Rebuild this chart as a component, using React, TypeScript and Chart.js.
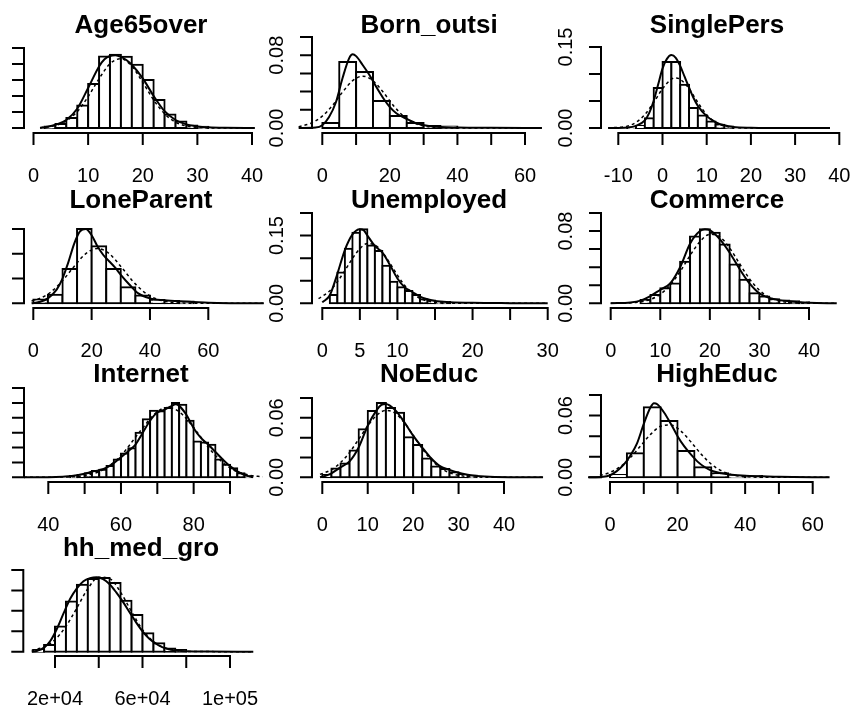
import React, { useEffect, useRef } from "react";
import { Chart, registerables } from "chart.js";
Chart.register(...registerables);

// ---------------- data ----------------
const ageBreaks = [2, 4, 6, 8, 10, 12, 14, 16, 18, 20, 22, 24, 26, 28, 30, 32];
const ageDens = [0.002, 0.005, 0.0125, 0.028, 0.055, 0.0895, 0.0917, 0.089, 0.079, 0.06, 0.035, 0.017, 0.008, 0.003, 0.0015];
const ageKdeX = [1.2, 2, 4, 6, 8, 10, 12, 13, 14, 15, 16, 17, 18, 20, 22, 24, 26, 28, 30, 32, 35, 40.5];
const ageKdeY = [0, 0.001, 0.004, 0.01, 0.024, 0.05, 0.077, 0.086, 0.09, 0.091, 0.089, 0.085, 0.079, 0.062, 0.04, 0.021, 0.01, 0.0045, 0.002, 0.0008, 0.0002, 0];
const ageNormX = [1.2, 2, 4, 6, 8, 10, 12, 14, 16, 18, 20, 22, 24, 26, 28, 30, 32, 35, 40.5];
const ageNormY = [0.0006, 0.001, 0.0032, 0.0089, 0.0205, 0.0392, 0.0616, 0.0803, 0.0866, 0.0773, 0.0571, 0.035, 0.0177, 0.0074, 0.0026, 0.0007, 0.0002, 0.00002, 0];
const ageXTicks = [0, 10, 20, 30, 40];
const ageXLabels = ["0", "10", "20", "30", "40"];
const ageYTicks = [0, 0.02, 0.04, 0.06, 0.08, 0.1];
const ageYLabels = ["0.00", "", "", "", "0.08", ""];

const bornBreaks = [0, 5, 10, 15, 20, 25, 30, 35, 40];
const bornDens = [0.0055, 0.0725, 0.0615, 0.0297, 0.0132, 0.0055, 0.0022, 0.0016];
const bornKdeX = [-7, -2, 0, 2, 4, 6, 8, 9, 10, 12, 14, 16, 18, 20, 22, 25, 28, 32, 40, 50, 65];
const bornKdeY = [0, 0.0005, 0.003, 0.012, 0.028, 0.055, 0.077, 0.081, 0.079, 0.069, 0.058, 0.045, 0.033, 0.023, 0.016, 0.01, 0.005, 0.002, 0.0005, 0.0002, 0];
const bornNormX = [-7, -3, 0, 3, 6, 9, 12, 15, 18, 21, 24, 27, 30, 35, 40, 65];
const bornNormY = [0.0014, 0.0058, 0.0131, 0.0248, 0.0395, 0.052, 0.057, 0.052, 0.0395, 0.0248, 0.0131, 0.0058, 0.0021, 0.0003, 0.00002, 0];
const bornXTicks = [0, 10, 20, 30, 40, 50, 60];
const bornXLabels = ["0", "", "20", "", "40", "", "60"];
const bornYTicks = [0, 0.02, 0.04, 0.06, 0.08, 0.1];
const bornYLabels = ["0.00", "", "", "", "0.08", ""];

const singleBreaks = [-8, -6, -4, -2, 0, 2, 4, 6, 8, 10, 12, 14, 16];
const singleDens = [0.001, 0.004, 0.018, 0.074, 0.122, 0.122, 0.08, 0.037, 0.023, 0.012, 0.006, 0.003];
const singleKdeX = [-12.3, -8, -6, -4, -3, -2, -1, 0, 1, 2, 3, 4, 5, 6, 7, 8, 10, 12, 14, 16, 20, 25, 37.9];
const singleKdeY = [0, 0.001, 0.004, 0.014, 0.028, 0.05, 0.08, 0.11, 0.128, 0.135, 0.13, 0.115, 0.095, 0.075, 0.056, 0.041, 0.022, 0.011, 0.005, 0.002, 0.0005, 0.0001, 0];
const singleNormX = [-12.3, -8, -6, -4, -2, 0, 2, 3, 4, 6, 8, 10, 12, 14, 16, 18, 25, 37.9];
const singleNormY = [0.0002, 0.0035, 0.0104, 0.0247, 0.0472, 0.0728, 0.0903, 0.0928, 0.0903, 0.0728, 0.0472, 0.0247, 0.0104, 0.0035, 0.001, 0.0002, 0, 0];
const singleXTicks = [-10, 0, 10, 20, 30, 40];
const singleXLabels = ["-10", "0", "10", "20", "30", "40"];
const singleYTicks = [0, 0.05, 0.1, 0.15];
const singleYLabels = ["0.00", "", "", "0.15"];

const loneBreaks = [0, 5, 10, 15, 20, 25, 30, 35, 40, 45, 50, 55];
const loneDens = [0.003, 0.007, 0.0276, 0.06, 0.046, 0.0276, 0.013, 0.0062, 0.0027, 0.0019, 0.0014];
const loneKdeX = [-0.6, 2, 5, 8, 10, 12, 14, 16, 18, 20, 22, 24, 26, 28, 30, 33, 36, 40, 45, 50, 55, 60, 70, 79];
const loneKdeY = [0, 0.001, 0.004, 0.011, 0.02, 0.033, 0.048, 0.058, 0.06, 0.055, 0.046, 0.039, 0.034, 0.029, 0.023, 0.015, 0.008, 0.004, 0.0025, 0.0016, 0.001, 0.0004, 0.0001, 0];
const loneNormX = [-0.6, 2, 6, 10, 14, 18, 22, 26, 30, 34, 38, 42, 46, 50, 56, 79];
const loneNormY = [0.0019, 0.0037, 0.0091, 0.0182, 0.0298, 0.0401, 0.0443, 0.0401, 0.0298, 0.0182, 0.0091, 0.0037, 0.0012, 0.0003, 0.00004, 0];
const loneXTicks = [0, 20, 40, 60];
const loneXLabels = ["0", "20", "40", "60"];
const loneYTicks = [0, 0.02, 0.04, 0.06];
const loneYLabels = ["0.00", "", "", "0.06"];

const unempBreaks = [1, 2, 3, 4, 5, 6, 7, 8, 9, 10, 11, 12, 13, 14, 15, 16, 17];
const unempDens = [0.0185, 0.068, 0.121, 0.156, 0.164, 0.128, 0.116, 0.083, 0.048, 0.0356, 0.027, 0.0185, 0.009, 0.006, 0.0037, 0.003];
const unempKdeX = [0, 1, 2, 3, 4, 5, 5.5, 6, 7, 8, 9, 10, 11, 12, 13, 14, 15, 17, 20, 25, 30];
const unempKdeY = [0.002, 0.018, 0.065, 0.118, 0.152, 0.164, 0.162, 0.15, 0.127, 0.112, 0.085, 0.055, 0.035, 0.025, 0.015, 0.009, 0.005, 0.0025, 0.001, 0.0003, 0];
const unempNormX = [-0.5, 1, 2, 3, 4, 5, 6, 7, 8, 9, 10, 11, 12, 13, 14, 15, 17, 30];
const unempNormY = [0.0102, 0.0278, 0.0476, 0.0726, 0.0991, 0.121, 0.1323, 0.1294, 0.1132, 0.0887, 0.0622, 0.039, 0.0219, 0.011, 0.0049, 0.002, 0.0002, 0];
const unempXTicks = [0, 5, 10, 15, 20, 25, 30];
const unempXLabels = ["0", "5", "10", "", "20", "", "30"];
const unempYTicks = [0, 0.05, 0.1, 0.15, 0.2];
const unempYLabels = ["0.00", "", "", "0.15", ""];

const commBreaks = [6, 8, 10, 12, 14, 16, 18, 20, 22, 24, 26, 28, 30, 32, 34, 36, 38, 40];
const commDens = [0.0037, 0.0093, 0.0167, 0.022, 0.046, 0.074, 0.082, 0.078, 0.065, 0.043, 0.026, 0.011, 0.0074, 0.0044, 0.003, 0.0022, 0.0012];
const commKdeX = [0, 4, 6, 8, 10, 12, 14, 16, 18, 19, 20, 22, 24, 26, 28, 30, 32, 34, 36, 38, 40, 45.6];
const commKdeY = [0, 0.001, 0.003, 0.008, 0.015, 0.022, 0.04, 0.066, 0.08, 0.082, 0.081, 0.071, 0.056, 0.038, 0.022, 0.011, 0.006, 0.0035, 0.0022, 0.0012, 0.0005, 0];
const commNormX = [0, 5, 8, 10, 12, 14, 16, 18, 20, 22, 24, 26, 28, 30, 32, 34, 36, 40, 45.6];
const commNormY = [0.00003, 0.0009, 0.0043, 0.01, 0.0202, 0.0351, 0.0528, 0.0683, 0.0764, 0.0736, 0.0612, 0.0438, 0.0271, 0.0144, 0.0067, 0.0026, 0.0009, 0.00005, 0];
const commXTicks = [0, 10, 20, 30, 40];
const commXLabels = ["0", "10", "20", "30", "40"];
const commYTicks = [0, 0.02, 0.04, 0.06, 0.08, 0.1];
const commYLabels = ["0.00", "", "", "", "0.08", ""];

const netBreaks = [46, 48, 50, 52, 54, 56, 58, 60, 62, 64, 66, 68, 70, 72, 74, 76, 78, 80, 82, 84, 86, 88, 90, 92, 94, 96];
const netDens = [0.0009, 0.0016, 0.0027, 0.0043, 0.005, 0.0076, 0.012, 0.016, 0.0196, 0.03, 0.039, 0.0447, 0.0443, 0.0465, 0.05, 0.0488, 0.038, 0.024, 0.0234, 0.0218, 0.012, 0.0085, 0.006, 0.0027, 0.0009];
const netKdeX = [33.3, 40, 44, 46, 48, 50, 52, 54, 56, 58, 60, 62, 64, 66, 68, 70, 72, 74, 75, 76, 78, 80, 82, 84, 86, 88, 90, 92, 94, 96.4];
const netKdeY = [0, 0, 0.0003, 0.0008, 0.0014, 0.0024, 0.0037, 0.0048, 0.0065, 0.0095, 0.0135, 0.0175, 0.022, 0.03, 0.038, 0.0435, 0.0455, 0.048, 0.049, 0.048, 0.042, 0.033, 0.0265, 0.022, 0.017, 0.012, 0.0075, 0.004, 0.0015, 0];
const netNormX = [33.3, 45, 50, 55, 60, 65, 70, 73, 76, 80, 85, 90, 95, 99];
const netNormY = [0, 0.0002, 0.0012, 0.005, 0.0146, 0.0301, 0.0441, 0.0469, 0.0441, 0.0334, 0.0173, 0.0063, 0.0016, 0.0004];
const netXTicks = [40, 50, 60, 70, 80, 90];
const netXLabels = ["40", "", "60", "", "80", ""];
const netYTicks = [0, 0.01, 0.02, 0.03, 0.04, 0.05, 0.06];
const netYLabels = ["0.00", "", "", "0.03", "", "", "0.06"];

const noBreaks = [0, 2, 4, 6, 8, 10, 12, 14, 16, 18, 20, 22, 24, 26, 28, 30, 32, 34];
const noDens = [0.0024, 0.009, 0.014, 0.027, 0.0486, 0.067, 0.075, 0.07, 0.065, 0.0405, 0.0327, 0.019, 0.0108, 0.0084, 0.005, 0.0024, 0.0017];
const noKdeX = [-0.5, 1, 2, 4, 6, 8, 10, 12, 13, 14, 16, 18, 20, 22, 24, 26, 28, 30, 32, 34, 38, 48.6];
const noKdeY = [0, 0.002, 0.004, 0.01, 0.016, 0.03, 0.052, 0.068, 0.073, 0.074, 0.068, 0.056, 0.042, 0.03, 0.019, 0.011, 0.0075, 0.0045, 0.0025, 0.0012, 0.0003, 0];
const noNormX = [-0.5, 2, 4, 6, 8, 10, 12, 14, 16, 18, 20, 22, 24, 26, 28, 30, 33, 40, 48.6];
const noNormY = [0.0029, 0.0077, 0.0147, 0.0251, 0.0383, 0.0518, 0.0627, 0.0675, 0.0648, 0.0555, 0.0424, 0.0288, 0.0175, 0.0095, 0.0046, 0.002, 0.0004, 0, 0];
const noXTicks = [0, 10, 20, 30, 40];
const noXLabels = ["0", "10", "20", "30", "40"];
const noYTicks = [0, 0.02, 0.04, 0.06, 0.08];
const noYLabels = ["0.00", "", "", "0.06", ""];

const highBreaks = [0, 5, 10, 15, 20, 25, 30, 35, 40, 45];
const highDens = [0.0023, 0.0233, 0.068, 0.0547, 0.0256, 0.0097, 0.0039, 0.0016, 0.0013];
const highKdeX = [-6.5, -2, 0, 2, 4, 6, 8, 10, 12, 13, 14, 16, 18, 20, 22, 24, 26, 28, 30, 33, 36, 40, 45, 50, 65];
const highKdeY = [0, 0.0005, 0.002, 0.006, 0.012, 0.021, 0.033, 0.052, 0.068, 0.072, 0.071, 0.063, 0.052, 0.04, 0.03, 0.022, 0.015, 0.01, 0.0065, 0.004, 0.0025, 0.0015, 0.001, 0.0005, 0];
const highNormX = [-6.5, -3, 0, 3, 6, 9, 12, 15, 18, 21, 24, 27, 30, 33, 36, 40, 45, 65];
const highNormY = [0.0006, 0.0019, 0.0048, 0.0102, 0.019, 0.0303, 0.0417, 0.0496, 0.0508, 0.0449, 0.0342, 0.0225, 0.0127, 0.0063, 0.0026, 0.0007, 0.0001, 0];
const highXTicks = [0, 10, 20, 30, 40, 50, 60];
const highXLabels = ["0", "", "20", "", "40", "", "60"];
const highYTicks = [0, 0.02, 0.04, 0.06, 0.08];
const highYLabels = ["0.00", "", "", "0.06", ""];

const hhBreaks = [10000, 15000, 20000, 25000, 30000, 35000, 40000, 45000, 50000, 55000, 60000, 65000, 70000, 75000, 80000];
const hhDens = [0.08e-5, 0.33e-5, 1.23e-5, 2.46e-5, 3.28e-5, 3.56e-5, 3.61e-5, 3.36e-5, 2.49e-5, 1.8e-5, 0.9e-5, 0.41e-5, 0.16e-5, 0.08e-5];
const hhKdeX = [9350, 12000, 15000, 18000, 21000, 24000, 27000, 30000, 33000, 36000, 39000, 42000, 45000, 48000, 51000, 54000, 57000, 60000, 63000, 66000, 69000, 72000, 76000, 80000, 90000, 110650];
const hhKdeY = [0, 0.05e-5, 0.2e-5, 0.55e-5, 1.15e-5, 1.9e-5, 2.6e-5, 3.1e-5, 3.45e-5, 3.6e-5, 3.65e-5, 3.55e-5, 3.3e-5, 2.9e-5, 2.45e-5, 1.95e-5, 1.45e-5, 1.0e-5, 0.65e-5, 0.4e-5, 0.22e-5, 0.12e-5, 0.05e-5, 0.02e-5, 0.005e-5, 0];
const hhNormX = [9350, 15000, 20000, 25000, 30000, 35000, 40000, 45000, 50000, 55000, 60000, 65000, 70000, 75000, 80000, 110650];
const hhNormY = [0.064e-5, 0.235e-5, 0.59e-5, 1.24e-5, 2.14e-5, 3.08e-5, 3.65e-5, 3.58e-5, 2.91e-5, 1.96e-5, 1.08e-5, 0.5e-5, 0.19e-5, 0.06e-5, 0.016e-5, 0];
const hhXTicks = [20000, 40000, 60000, 80000, 100000];
const hhXLabels = ["2e+04", "", "6e+04", "", "1e+05"];
const hhYTicks = [0, 1e-5, 2e-5, 3e-5, 4e-5];
const hhYLabels = ["0e+00", "", "2e-05", "", "4e-05"];

const titles = ["Age65over", "Born_outsi", "SinglePers", "LoneParent", "Unemployed", "Commerce", "Internet", "NoEduc", "HighEduc", "hh_med_gro"];

const panelData = [
  { breaks: ageBreaks, dens: ageDens, kx: ageKdeX, ky: ageKdeY, nx: ageNormX, ny: ageNormY, xt: ageXTicks, xl: ageXLabels, yt: ageYTicks, yl: ageYLabels },
  { breaks: bornBreaks, dens: bornDens, kx: bornKdeX, ky: bornKdeY, nx: bornNormX, ny: bornNormY, xt: bornXTicks, xl: bornXLabels, yt: bornYTicks, yl: bornYLabels },
  { breaks: singleBreaks, dens: singleDens, kx: singleKdeX, ky: singleKdeY, nx: singleNormX, ny: singleNormY, xt: singleXTicks, xl: singleXLabels, yt: singleYTicks, yl: singleYLabels },
  { breaks: loneBreaks, dens: loneDens, kx: loneKdeX, ky: loneKdeY, nx: loneNormX, ny: loneNormY, xt: loneXTicks, xl: loneXLabels, yt: loneYTicks, yl: loneYLabels },
  { breaks: unempBreaks, dens: unempDens, kx: unempKdeX, ky: unempKdeY, nx: unempNormX, ny: unempNormY, xt: unempXTicks, xl: unempXLabels, yt: unempYTicks, yl: unempYLabels },
  { breaks: commBreaks, dens: commDens, kx: commKdeX, ky: commKdeY, nx: commNormX, ny: commNormY, xt: commXTicks, xl: commXLabels, yt: commYTicks, yl: commYLabels },
  { breaks: netBreaks, dens: netDens, kx: netKdeX, ky: netKdeY, nx: netNormX, ny: netNormY, xt: netXTicks, xl: netXLabels, yt: netYTicks, yl: netYLabels },
  { breaks: noBreaks, dens: noDens, kx: noKdeX, ky: noKdeY, nx: noNormX, ny: noNormY, xt: noXTicks, xl: noXLabels, yt: noYTicks, yl: noYLabels },
  { breaks: highBreaks, dens: highDens, kx: highKdeX, ky: highKdeY, nx: highNormX, ny: highNormY, xt: highXTicks, xl: highXLabels, yt: highYTicks, yl: highYLabels },
  { breaks: hhBreaks, dens: hhDens, kx: hhKdeX, ky: hhKdeY, nx: hhNormX, ny: hhNormY, xt: hhXTicks, xl: hhXLabels, yt: hhYTicks, yl: hhYLabels },
];

// ---------------- layout (page pixels) ----------------
// axisX: y-axis line, axisY: x-axis line, baseY: density 0, topY: top y tick,
// x0px/x1px: pixel of first/last x tick, titleX: title centre
const layouts = [
  { axisX: 24, axisY: 133, baseY: 128, topY: 48, x0px: 33.5, x1px: 252, titleX: 141 },
  { axisX: 312, axisY: 133, baseY: 128, topY: 37, x0px: 322.3, x1px: 525, titleX: 429 },
  { axisX: 601, axisY: 133, baseY: 128, topY: 47, x0px: 618.3, x1px: 839.3, titleX: 717 },
  { axisX: 24, axisY: 308, baseY: 303.3, topY: 229, x0px: 33.3, x1px: 208.3, titleX: 141 },
  { axisX: 312, axisY: 308, baseY: 303.3, topY: 213, x0px: 322.3, x1px: 547.7, titleX: 429 },
  { axisX: 601, axisY: 308, baseY: 303.3, topY: 213, x0px: 610.7, x1px: 809, titleX: 717 },
  { axisX: 24, axisY: 482, baseY: 477.3, topY: 388, x0px: 48.3, x1px: 230, titleX: 141 },
  { axisX: 312, axisY: 482, baseY: 477.3, topY: 398, x0px: 322.3, x1px: 504, titleX: 429 },
  { axisX: 601, axisY: 482, baseY: 477.3, topY: 395, x0px: 610, x1px: 812.7, titleX: 717 },
  { axisX: 23.3, axisY: 656, baseY: 651.7, topY: 570, x0px: 55, x1px: 230, titleX: 141 },
];

const W = 850;
const H = 705;
const FONT = '"Liberation Sans", Arial, Helvetica, sans-serif';

function Panel({ idx }: { idx: number }) {
  const ref = useRef<HTMLCanvasElement | null>(null);
  useEffect(() => {
    const d = panelData[idx];
    const L = layouts[idx];
    const title = titles[idx];
    const xFirst = d.xt[0];
    const xLast = d.xt[d.xt.length - 1];
    const xpu = (L.x1px - L.x0px) / (xLast - xFirst);
    const right = W - 1;
    const xmin = xFirst - (L.x0px - L.axisX) / xpu;
    const xmax = xFirst + (right - L.x0px) / xpu;
    const yTop = d.yt[d.yt.length - 1];
    const ypu = (L.baseY - L.topY) / yTop;
    const ymin = -(L.axisY - L.baseY) / ypu;

    const bars = d.dens.map((h, i) => ({ x: (d.breaks[i] + d.breaks[i + 1]) / 2, y: h }));
    const kde = d.kx.map((x, i) => ({ x, y: d.ky[i] }));
    const norm = d.nx.map((x, i) => ({ x, y: d.ny[i] }));

    const axesPlugin = {
      id: "rAxes" + idx,
      afterDraw(chart: any) {
        const { ctx, chartArea } = chart;
        const xs = chart.scales.x;
        const ys = chart.scales.y;
        ctx.save();
        ctx.strokeStyle = "#000";
        ctx.fillStyle = "#000";
        ctx.lineWidth = 2;
        ctx.lineCap = "butt";
        // x axis
        const yb = chartArea.bottom;
        const xp = d.xt.map((v: number) => xs.getPixelForValue(v));
        ctx.beginPath();
        ctx.moveTo(xp[0] - 1, yb);
        ctx.lineTo(xp[xp.length - 1] + 1, yb);
        xp.forEach((p: number) => {
          ctx.moveTo(p, yb);
          ctx.lineTo(p, yb + 12);
        });
        ctx.stroke();
        ctx.font = "20px " + FONT;
        ctx.textAlign = "center";
        ctx.textBaseline = "alphabetic";
        d.xl.forEach((l: string, i: number) => {
          if (l) ctx.fillText(l, xp[i], yb + 49);
        });
        // y axis
        const xa = chartArea.left;
        const yp = d.yt.map((v: number) => ys.getPixelForValue(v));
        ctx.beginPath();
        ctx.moveTo(xa, yp[0] + 1);
        ctx.lineTo(xa, yp[yp.length - 1] - 1);
        yp.forEach((p: number) => {
          ctx.moveTo(xa, p);
          ctx.lineTo(xa - 12, p);
        });
        ctx.stroke();
        d.yl.forEach((l: string, i: number) => {
          if (!l) return;
          ctx.save();
          ctx.translate(xa - 29, yp[i]);
          ctx.rotate(-Math.PI / 2);
          ctx.fillText(l, 0, 0);
          ctx.restore();
        });
        // title
        ctx.font = "bold 26px " + FONT;
        ctx.fillText(title, L.titleX, yb - 100);
        ctx.restore();
      },
    };

    const chart = new Chart(ref.current as HTMLCanvasElement, {
      type: "bar",
      data: {
        datasets: [
          {
            type: "line",
            data: kde,
            borderColor: "#000",
            borderWidth: 2,
            pointRadius: 0,
            cubicInterpolationMode: "monotone",
            fill: false,
            clip: false,
            order: 1,
          } as any,
          {
            type: "line",
            data: norm,
            borderColor: "#000",
            borderWidth: 1.5,
            borderDash: [3, 3],
            pointRadius: 0,
            cubicInterpolationMode: "monotone",
            fill: false,
            clip: false,
            order: 2,
          } as any,
          {
            type: "bar",
            data: bars,
            backgroundColor: "#fff",
            borderColor: "#000",
            borderWidth: 2,
            borderSkipped: false,
            barPercentage: 1,
            categoryPercentage: 1,
            inflateAmount: 1,
            clip: false,
            order: 3,
          } as any,
        ],
      },
      options: {
        responsive: false,
        animation: false,
        devicePixelRatio: 1,
        events: [],
        layout: {
          padding: { left: L.axisX, top: L.topY, right: W - right, bottom: H - L.axisY },
        },
        plugins: {
          legend: { display: false },
          tooltip: { enabled: false },
          title: { display: false },
        },
        scales: {
          x: {
            type: "linear",
            display: false,
            min: xmin,
            max: xmax,
            offset: false,
            bounds: "data",
            afterBuildTicks: (s: any) => {
              s.ticks = d.xt.map((v: number) => ({ value: v }));
            },
          },
          y: {
            type: "linear",
            display: false,
            min: ymin,
            max: yTop,
            bounds: "data",
            afterBuildTicks: (s: any) => {
              s.ticks = d.yt.map((v: number) => ({ value: v }));
            },
          },
        },
      } as any,
      plugins: [axesPlugin],
    });
    return () => chart.destroy();
  }, [idx]);
  return (
    <canvas
      ref={ref}
      width={W}
      height={H}
      style={{ position: "absolute", left: 0, top: 0, width: W, height: H }}
    />
  );
}

export default function App() {
  return (
    <div
      style={{
        position: "absolute",
        left: 0,
        top: 0,
        width: W,
        height: H,
        background: "#fff",
        overflow: "hidden",
      }}
    >
      {titles.map((t, i) => (
        <Panel key={t} idx={i} />
      ))}
    </div>
  );
}
